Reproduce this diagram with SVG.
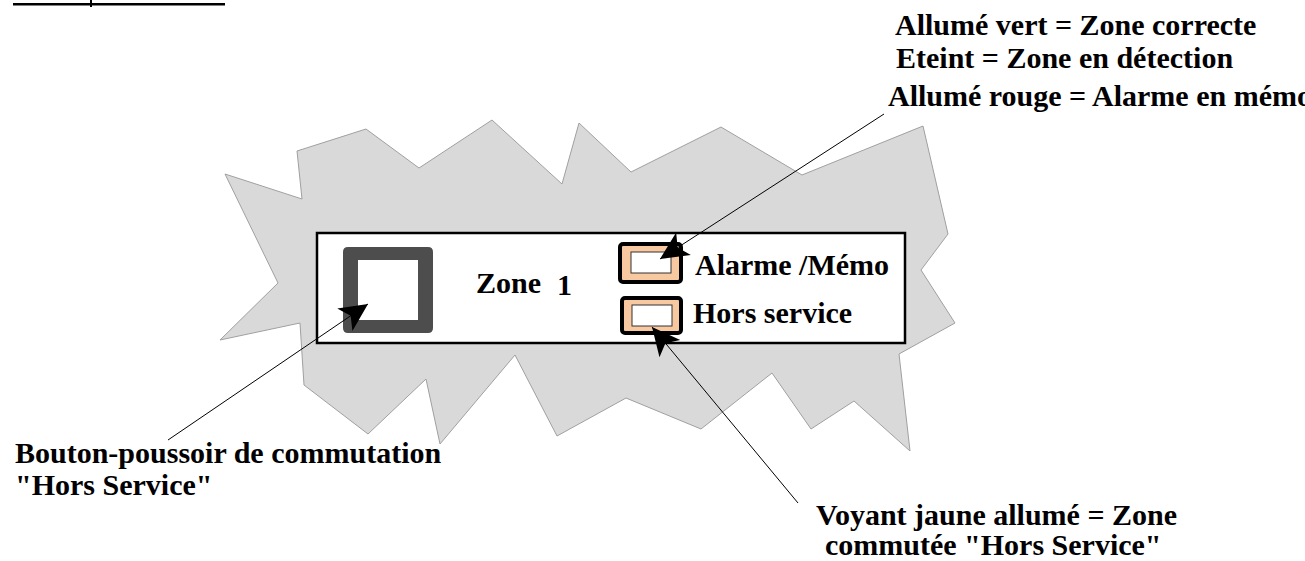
<svg xmlns="http://www.w3.org/2000/svg" width="1305" height="561" viewBox="0 0 1305 561">
<style>
.t{font-family:"Liberation Serif","Times New Roman",serif;font-weight:bold;font-size:30px;fill:#000}
.conn{stroke:#000;stroke-width:1;fill:none}
.led{fill:#f8c9a0;stroke:#000;stroke-width:4}
.ledin{fill:#fff;stroke:#333;stroke-width:1}
</style>
<defs>
<marker id="ah" viewBox="-30 -15 32 30" refX="0" refY="0" markerWidth="32" markerHeight="30" markerUnits="userSpaceOnUse" orient="auto">
<path d="M0,0 L-28,-13.5 L-21,0 L-28,13.5 Z" fill="#000"/>
</marker>
</defs>
<rect width="1305" height="561" fill="#fff"/>
<g id="title-underline">
<rect x="13" y="3" width="212" height="2.5" fill="#000"/>
<rect x="90" y="0" width="2" height="7" fill="#000"/>
</g>
<g id="blob">
<polygon points="225,174 302,199 297,151 366,129 419,168 492,120 562,184 579,123 631,172 721,127 802,175 923,126 948,234 921,270 955,323 899,354 910,451 854,401 811,429 772,373 701,429 626,398 557,436 515,355 440,444 426,379 368,434 304,385 300,323 220,340 278,283" fill="#d9d9d9" stroke="#a0a0a0" stroke-width="1"/>
</g>
<g id="panel">
<rect x="317" y="233" width="588" height="110" fill="#fff" stroke="#000" stroke-width="2.5"/>
</g>
<g id="button">
<path d="M348,247 H428 Q433,247 433,252 V328 Q433,333 428,333 H348 Q343,333 343,328 V252 Q343,247 348,247 Z M358,260 V320 H418 V260 Z" fill="#4d4d4d" fill-rule="evenodd"/>
</g>
<g id="zone-label">
<text class="t" x="476" y="293" font-size="27">Zone</text>
<text class="t" x="557" y="295" font-size="32">1</text>
</g>
<g id="led-alarme">
<rect class="led" x="620" y="244" width="61" height="38" rx="3"/>
<rect class="ledin" x="631" y="252" width="40" height="21"/>
<text class="t" x="695" y="275">Alarme /Mémo</text>
</g>
<g id="led-hs">
<rect class="led" x="622" y="298" width="59" height="35" rx="3"/>
<rect class="ledin" x="632" y="305" width="40" height="21"/>
<text class="t" x="693" y="323">Hors service</text>
</g>
<g id="legend-top">
<text class="t" x="895" y="35">Allumé vert = Zone correcte</text>
<text class="t" x="896" y="68">Eteint = Zone en détection</text>
<text class="t" x="888" y="106">Allumé rouge = Alarme en mémo</text>
</g>
<g id="label-bouton">
<text class="t" x="15" y="463" font-size="29">Bouton-poussoir de commutation</text>
<text class="t" x="15" y="495" font-size="29">"Hors Service"</text>
</g>
<g id="label-voyant">
<text class="t" x="816" y="525">Voyant jaune allumé = Zone</text>
<text class="t" x="825" y="555">commutée "Hors Service"</text>
</g>
<g id="connectors">
<line class="conn" x1="884" y1="114" x2="660" y2="259" marker-end="url(#ah)"/>
<line class="conn" x1="798" y1="503" x2="652" y2="327" marker-end="url(#ah)"/>
<line class="conn" x1="168" y1="440" x2="368" y2="304" marker-end="url(#ah)"/>
</g>
</svg>
